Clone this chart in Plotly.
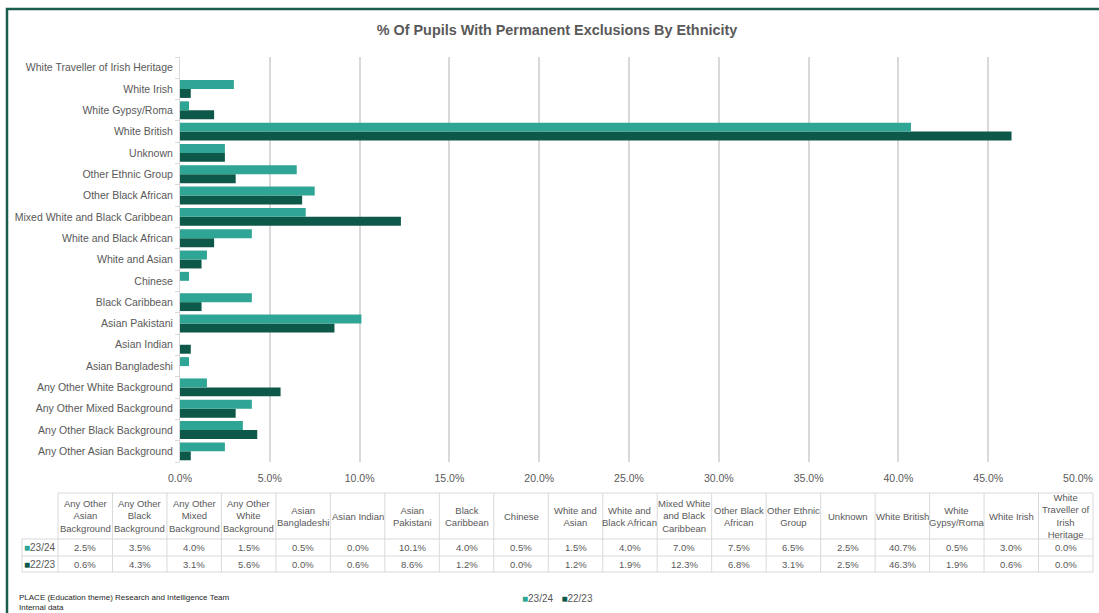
import plotly.graph_objects as go

# Ethnic groups, in table order (first one sits at the bottom of the bar chart)
groups = [
    "Any Other Asian Background", "Any Other Black Background", "Any Other Mixed Background",
    "Any Other White Background", "Asian Bangladeshi", "Asian Indian", "Asian Pakistani",
    "Black Caribbean", "Chinese", "White and Asian", "White and Black African",
    "Mixed White and Black Caribbean", "Other Black African", "Other Ethnic Group",
    "Unknown", "White British", "White Gypsy/Roma", "White Irish",
    "White Traveller of Irish Heritage",
]

# Header labels of the data table, wrapped like the printed table
table_headers = [
    "Any Other<br>Asian<br>Background", "Any Other<br>Black<br>Background",
    "Any Other<br>Mixed<br>Background", "Any Other<br>White<br>Background",
    "Asian<br>Bangladeshi", "Asian Indian", "Asian<br>Pakistani",
    "Black<br>Caribbean", "Chinese", "White and<br>Asian",
    "White and<br>Black African", "Mixed White<br>and Black<br>Caribbean",
    "Other Black<br>African", "Other Ethnic<br>Group", "Unknown",
    "White British", "White<br>Gypsy/Roma", "White Irish",
    "White<br>Traveller of<br>Irish<br>Heritage",
]

# % of pupils with permanent exclusions
series_names = ["23/24", "22/23"]
pct_2324 = [2.5, 3.5, 4.0, 1.5, 0.5, 0.0, 10.1, 4.0, 0.5, 1.5, 4.0, 7.0, 7.5, 6.5, 2.5, 40.7, 0.5, 3.0, 0.0]
pct_2223 = [0.6, 4.3, 3.1, 5.6, 0.0, 0.6, 8.6, 1.2, 0.0, 1.2, 1.9, 12.3, 6.8, 3.1, 2.5, 46.3, 1.9, 0.6, 0.0]

x_ticks = [0, 5, 10, 15, 20, 25, 30, 35, 40, 45, 50]

C_NEW = "#2ea595"
C_OLD = "#0e5849"
GREY = "#595959"
LINE = "#d9d9d9"
FONT = "Liberation Sans, Arial, sans-serif"

W, H = 1099, 613


def fx(p):
    return p / W


def fy(p):
    return 1 - p / H


fig = go.Figure()

# 22/23 first so that 23/24 sits above it within each group
fig.add_trace(go.Bar(
    y=groups, x=pct_2223, name=series_names[1], orientation="h",
    marker=dict(color=C_OLD, line=dict(width=0)), showlegend=False,
))
fig.add_trace(go.Bar(
    y=groups, x=pct_2324, name=series_names[0], orientation="h",
    marker=dict(color=C_NEW, line=dict(width=0)), showlegend=False,
))

shapes = [
    # chart frame
    dict(type="rect", xref="paper", yref="paper",
         x0=fx(7), x1=1.05, y0=-0.05, y1=fy(9),
         line=dict(color="#1b5d4b", width=2.5), fillcolor="rgba(0,0,0,0)", layer="above"),
]
annotations = []

# ---- data table under the chart (pixel layout) ----
tbl_left, lab_right, tbl_right = 22, 58, 1093
hdr_top, hdr_bot = 493, 539
row_bounds = [539, 556, 572]
n = len(groups)
col_w = (tbl_right - lab_right) / n
col_edges = [lab_right + i * col_w for i in range(n + 1)]


def hline(y, x0, x1):
    shapes.append(dict(type="line", xref="paper", yref="paper",
                       x0=fx(x0), x1=fx(x1), y0=fy(y), y1=fy(y),
                       line=dict(color=LINE, width=1)))


def vline(x, y0, y1):
    shapes.append(dict(type="line", xref="paper", yref="paper",
                       x0=fx(x), x1=fx(x), y0=fy(y0), y1=fy(y1),
                       line=dict(color=LINE, width=1)))


hline(hdr_top, lab_right, tbl_right)
for yb in row_bounds:
    hline(yb, tbl_left, tbl_right)
vline(tbl_left, row_bounds[0], row_bounds[-1])
for xe in col_edges:
    vline(xe, hdr_top, row_bounds[-1])


def cell_text(text, xc, yc, size=9.5):
    annotations.append(dict(
        text=text, x=fx(xc), y=fy(yc), xref="paper", yref="paper",
        xanchor="center", yanchor="middle", showarrow=False, align="center",
        font=dict(family=FONT, size=size, color=GREY),
    ))


def swatch(color):
    return f'<span style="color:{color};font-size:10px">■</span>'


for i, head in enumerate(table_headers):
    xc = (col_edges[i] + col_edges[i + 1]) / 2
    cell_text(head, xc, (hdr_top + hdr_bot) / 2)

series_vals = [pct_2324, pct_2223]
series_cols = [C_NEW, C_OLD]
for r, (name, vals, col) in enumerate(zip(series_names, series_vals, series_cols)):
    yc = (row_bounds[r] + row_bounds[r + 1]) / 2
    cell_text(f"{swatch(col)}{name}", (tbl_left + lab_right) / 2, yc, size=10)
    for i, v in enumerate(vals):
        xc = (col_edges[i] + col_edges[i + 1]) / 2
        cell_text(f"{v:.1f}%", xc, yc)

# footer note
annotations.append(dict(
    text="PLACE (Education theme) Research and Intelligence Team<br>Internal data",
    x=fx(17), y=fy(591), xref="paper", yref="paper",
    xanchor="left", yanchor="top", align="left", showarrow=False,
    font=dict(family=FONT, size=8, color="#262626"),
))

# legend
annotations.append(dict(
    text=f"{swatch(C_NEW)}{series_names[0]}   {swatch(C_OLD)}{series_names[1]}",
    x=fx(557), y=fy(598), xref="paper", yref="paper",
    xanchor="center", yanchor="middle", showarrow=False,
    font=dict(family=FONT, size=10, color=GREY),
))

fig.update_layout(
    width=W, height=H,
    margin=dict(l=0, r=0, t=0, b=0),
    paper_bgcolor="white", plot_bgcolor="white",
    barmode="group", bargap=0.16, bargroupgap=0,
    font=dict(family=FONT, color=GREY, size=10),
    title=dict(
        text="<b>% Of Pupils With Permanent Exclusions By Ethnicity</b>",
        x=557 / W, xanchor="center", y=fy(30), yanchor="middle",
        font=dict(family=FONT, size=14.4, color=GREY),
    ),
    xaxis=dict(
        domain=[fx(180), fx(1078)],
        range=[0, 50], tickvals=x_ticks,
        ticktext=[f"{v:.1f}%" for v in x_ticks],
        showgrid=True, gridcolor=LINE, gridwidth=1.5,
        zeroline=False, showline=False, ticks="",
        ticklabelstandoff=8,
        tickfont=dict(family=FONT, size=10.5, color=GREY),
        automargin=False,
    ),
    yaxis=dict(
        domain=[fy(462), fy(57)],
        categoryorder="array", categoryarray=groups,
        showgrid=False, zeroline=False,
        showline=True, linecolor=LINE, linewidth=1,
        ticks="outside", ticklen=4, tickcolor=LINE, tickson="boundaries",
        ticklabelstandoff=4,
        tickfont=dict(family=FONT, size=10.5, color=GREY),
        automargin=False,
    ),
    shapes=shapes,
    annotations=annotations,
)

fig.write_html("out.html")
